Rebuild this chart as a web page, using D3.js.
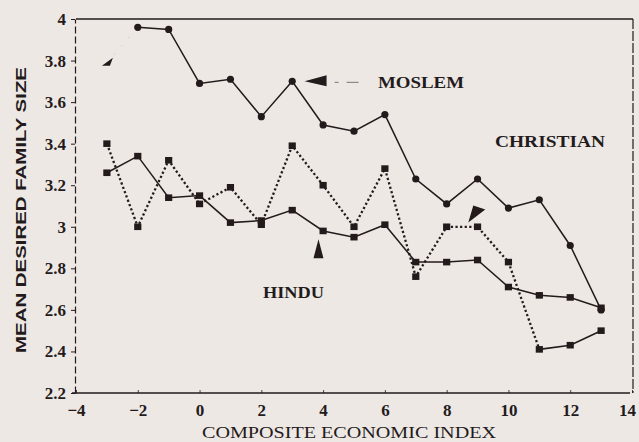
<!DOCTYPE html>
<html>
<head>
<meta charset="utf-8">
<script src="https://cdn.jsdelivr.net/npm/d3@7"></script>
<style>
  html, body { margin: 0; padding: 0; background: #eee8e5; }
  svg { display: block; }
</style>
</head>
<body>
<div id="chart"></div>
<script>
// composite economic index (x) for each point
var econIndex = [-3, -2, -1, 0, 1, 2, 3, 4, 5, 6, 7, 8, 9, 10, 11, 12, 13];
// mean desired family size per group
var moslem    = [3.79, 3.96, 3.95, 3.69, 3.71, 3.53, 3.70, 3.49, 3.46, 3.54, 3.23, 3.11, 3.23, 3.09, 3.13, 2.91, 2.60];
var christian = [3.40, 3.00, 3.32, 3.11, 3.19, 3.01, 3.39, 3.20, 3.00, 3.28, 2.76, 3.00, 3.00, 2.83, 2.41, 2.43, 2.50];
var hindu     = [3.26, 3.34, 3.14, 3.15, 3.02, 3.03, 3.08, 2.98, 2.95, 3.01, 2.83, 2.83, 2.84, 2.71, 2.67, 2.66, 2.61];
var xTicks = [-4, -2, 0, 2, 4, 6, 8, 10, 12, 14];
var yTicks = [2.2, 2.4, 2.6, 2.8, 3, 3.2, 3.4, 3.6, 3.8, 4];

var width = 639, height = 442;
var ink = "#231b1b";
var serif = "'Liberation Serif', 'DejaVu Serif', serif";

var svg = d3.select("#chart").append("svg")
  .attr("width", width)
  .attr("height", height);

var x = d3.scaleLinear().domain([-4, 14]).range([76, 632]);
var y = d3.scaleLinear().domain([2.2, 4]).range([393, 19]);

// frame: top + right borders
svg.append("line")
  .attr("x1", x(-4)).attr("x2", x(14) + 1)
  .attr("y1", y(4)).attr("y2", y(4))
  .attr("stroke", ink).attr("stroke-width", 1.3);
svg.append("line")
  .attr("x1", x(14) + 1).attr("x2", x(14) + 1)
  .attr("y1", y(4)).attr("y2", y(2.2))
  .attr("stroke", ink).attr("stroke-width", 1.2)
  .attr("stroke-dasharray", "10,2");

// x axis
var xAxis = svg.append("g")
  .attr("transform", "translate(0," + y(2.2) + ")")
  .call(d3.axisBottom(x).tickValues(xTicks).tickSizeInner(-3).tickSizeOuter(0)
    .tickFormat(function(d) { return d < 0 ? "\u2212" + Math.abs(d) : d; }));
xAxis.select(".domain").attr("stroke", ink).attr("stroke-width", 1.5)
  .attr("d", "M" + (x(-4) - 4) + ",0H" + (x(14) - 2));
xAxis.selectAll(".tick line").attr("stroke", ink).attr("stroke-width", 0.8);
xAxis.selectAll(".tick text")
  .attr("y", 9)
  .attr("dy", "0.85em")
  .attr("dx", function(d) { return d === 14 ? -5 : 0; })
  .attr("fill", ink)
  .attr("font-family", serif)
  .attr("font-weight", "bold")
  .attr("font-size", "17px");

// y axis
var yAxis = svg.append("g")
  .attr("transform", "translate(" + (x(-4) - 1) + ",0)")
  .call(d3.axisLeft(y).tickValues(yTicks).tickSize(4).tickSizeOuter(0)
    .tickFormat(function(d) { return String(+d.toFixed(1)); }));
yAxis.select(".domain").attr("stroke", ink).attr("stroke-width", 1.2)
  .attr("stroke-dasharray", "7,3");
yAxis.selectAll(".tick line").attr("stroke", ink).attr("stroke-width", 1);
yAxis.selectAll(".tick text")
  .attr("x", -9)
  .attr("fill", ink)
  .attr("font-family", serif)
  .attr("font-weight", "bold")
  .attr("font-size", "17px");

// axis titles
svg.append("text")
  .attr("transform", "translate(26," + ((y(4) + y(2.2)) / 2 + 4) + ") rotate(-90)")
  .attr("text-anchor", "middle")
  .attr("font-family", "'Liberation Sans', Arial, sans-serif")
  .attr("font-weight", "bold")
  .attr("font-size", "15px")
  .attr("textLength", 286)
  .attr("lengthAdjust", "spacingAndGlyphs")
  .attr("fill", ink)
  .text("MEAN DESIRED FAMILY SIZE");

svg.append("text")
  .attr("x", 349)
  .attr("y", 438)
  .attr("text-anchor", "middle")
  .attr("font-family", serif)
  .attr("font-size", "16px")
  .attr("textLength", 294)
  .attr("lengthAdjust", "spacingAndGlyphs")
  .attr("fill", ink)
  .text("COMPOSITE ECONOMIC INDEX");

function pts(vals) {
  return econIndex.map(function(e, i) { return [e, vals[i]]; });
}
var line = d3.line()
  .x(function(d) { return x(d[0]); })
  .y(function(d) { return y(d[1]); });

var mPts = pts(moslem), cPts = pts(christian), hPts = pts(hindu);

// Moslem: barely visible first segment, solid after
svg.append("path").datum(mPts.slice(0, 2))
  .attr("d", line).attr("fill", "none")
  .attr("stroke", ink).attr("stroke-width", 0.8).attr("stroke-opacity", 0.3)
  .attr("stroke-dasharray", "1,10");
svg.append("path").datum(mPts.slice(1))
  .attr("d", line).attr("fill", "none")
  .attr("stroke", ink).attr("stroke-width", 1.5);

// Christian: dotted, the last stretch solid
svg.append("path").datum(cPts.slice(0, 15))
  .attr("d", line).attr("fill", "none")
  .attr("stroke", ink).attr("stroke-width", 2.3)
  .attr("stroke-dasharray", "2.2,2.4");
svg.append("path").datum(cPts.slice(14))
  .attr("d", line).attr("fill", "none")
  .attr("stroke", ink).attr("stroke-width", 1.6);

// Hindu: solid
svg.append("path").datum(hPts)
  .attr("d", line).attr("fill", "none")
  .attr("stroke", ink).attr("stroke-width", 1.5);

// markers
svg.selectAll("circle.moslem")
  .data(mPts.slice(1))
  .enter().append("circle")
  .attr("class", "moslem")
  .attr("cx", function(d) { return x(d[0]); })
  .attr("cy", function(d) { return y(d[1]); })
  .attr("r", 3.6)
  .attr("fill", ink);

// first Moslem point drawn as a small arrowhead
svg.append("path").datum(mPts[0])
  .attr("d", function(d) {
    var cx = x(d[0]), cy = y(d[1]);
    return "M" + (cx - 5) + "," + (cy + 3) + "L" + (cx + 6) + "," + (cy - 5) +
      "L" + (cx + 3) + "," + (cy + 3) + "Z";
  })
  .attr("fill", ink);

[cPts, hPts].forEach(function(data) {
  svg.append("g").selectAll("rect")
    .data(data)
    .enter().append("rect")
    .attr("x", function(d) { return x(d[0]) - 3.6; })
    .attr("y", function(d) { return y(d[1]) - 3.3; })
    .attr("width", 7.2)
    .attr("height", 6.6)
    .attr("fill", ink);
});

// group labels with pointer arrows
function label(txt, lx, ly, len) {
  svg.append("text")
    .attr("x", lx).attr("y", ly)
    .attr("font-family", serif)
    .attr("font-weight", "bold")
    .attr("font-size", "16px")
    .attr("textLength", len)
    .attr("lengthAdjust", "spacingAndGlyphs")
    .attr("fill", ink)
    .text(txt);
}
label("MOSLEM", 378, 88, 86);
label("CHRISTIAN", 495, 147, 110);
label("HINDU", 263, 298, 61);

var mx = x(3.4), my = y(3.7);
svg.append("path")
  .attr("d", "M" + mx + "," + my + "L" + (mx + 22) + "," + (my - 6) + "L" + (mx + 22) + "," + (my + 5) + "Z")
  .attr("fill", ink);
svg.append("line")
  .attr("x1", mx + 30).attr("x2", mx + 68)
  .attr("y1", my + 1).attr("y2", my + 1)
  .attr("stroke", ink).attr("stroke-width", 0.8).attr("stroke-opacity", 0.7)
  .attr("stroke-dasharray", "4,8,12,30");

var hx = x(3.85), hy = y(2.94);
svg.append("path")
  .attr("d", "M" + hx + "," + hy + "L" + (hx + 5) + "," + (hy + 19) + "L" + (hx - 5) + "," + (hy + 19) + "Z")
  .attr("fill", ink);

var cx2 = x(8.7), cy2 = y(3.02);
svg.append("path")
  .attr("d", "M" + cx2 + "," + cy2 + "L" + (cx2 + 5) + "," + (cy2 - 17) + "L" + (cx2 + 17) + "," + (cy2 - 13) + "Z")
  .attr("fill", ink);
</script>
</body>
</html>
